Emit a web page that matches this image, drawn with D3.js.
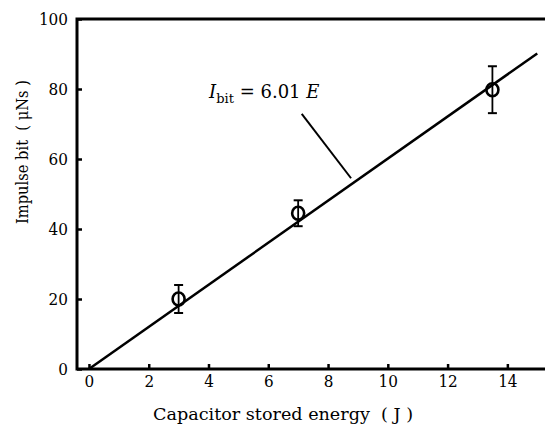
<!DOCTYPE html>
<html><head><meta charset="utf-8">
<script src="https://cdn.jsdelivr.net/npm/d3@7"></script>
<style>body{margin:0;background:#fff}svg{display:block}</style>
</head><body><svg id="c" width="545" height="429"></svg>
<script>
const energy = [3, 7, 13.5];
const impulse = [20, 44.5, 79.8];
const errHalf = [4, 3.7, 6.7];
const xTicks = [0, 2, 4, 6, 8, 10, 12, 14];
const yTicks = [0, 20, 40, 60, 80, 100];
const fitSlope = 6.01;
const fitRange = [0, 15];
const xTitle = "Capacitor stored energy\u00A0\u00A0( J )";
const yTitle = "Impulse bit\u00A0\u00A0( μNs )";
const FONT = "'DejaVu Serif', serif";

const svg = d3.select("#c");
const x = d3.scaleLinear().domain([-0.4, 15.36]).range([77, 548]);
const y = d3.scaleLinear().domain([0, 100]).range([369, 19]);

svg.append("path").attr("d", `M${x.range()[1]},${y(100)}H${x(-0.4)}V${y(0)}H${x.range()[1]}`)
  .attr("fill","none").attr("stroke","#000").attr("stroke-width",3);

const xa = svg.append("g").attr("transform",`translate(0,${y(0)})`)
  .call(d3.axisBottom(x).tickValues(xTicks).tickSizeInner(-5).tickSizeOuter(0).tickPadding(10).tickFormat(d3.format("d")));
xa.attr("font-family", FONT).attr("font-size",17);
xa.select(".domain").remove();
xa.selectAll("line").attr("stroke-width",2.5);
xa.selectAll("text").attr("dy","0.71em").attr("y",6);

const ya = svg.append("g").attr("transform",`translate(${x(-0.4)},0)`)
  .call(d3.axisLeft(y).tickValues(yTicks).tickSizeInner(-5).tickSizeOuter(0).tickPadding(9).tickFormat(d3.format("d")));
ya.attr("font-family", FONT).attr("font-size",17);
ya.select(".domain").remove();
ya.selectAll("line").attr("stroke-width",2.5);
ya.selectAll("text").attr("x",-9).attr("textLength", d => String(d).length * 9.7).attr("lengthAdjust","spacingAndGlyphs");
xa.selectAll("text").attr("textLength", d => String(d).length * 9.7).attr("lengthAdjust","spacingAndGlyphs");

svg.append("line").attr("x1",x(fitRange[0])).attr("y1",y(fitSlope*fitRange[0]))
  .attr("x2",x(fitRange[1])).attr("y2",y(fitSlope*fitRange[1]))
  .attr("stroke","#000").attr("stroke-width",2.5);

const pts = energy.map((e,i)=>({e, v:impulse[i], s:errHalf[i]}));
const g = svg.append("g");
pts.forEach(p=>{
  g.append("line").attr("x1",x(p.e)).attr("x2",x(p.e)).attr("y1",y(p.v+p.s)).attr("y2",y(p.v-p.s)).attr("stroke","#000").attr("stroke-width",1.8);
  [p.v+p.s, p.v-p.s].forEach(v=>g.append("line").attr("x1",x(p.e)-4.5).attr("x2",x(p.e)+4.5).attr("y1",y(v)).attr("y2",y(v)).attr("stroke","#000").attr("stroke-width",2));
  g.append("ellipse").attr("cx",x(p.e)).attr("cy",y(p.v)).attr("rx",6).attr("ry",6.5).attr("fill","none").attr("stroke","#000").attr("stroke-width",2.6);
});

const ann = {tx: 4.02, ty: 77.3, lx1: 7.12, ly1: 72.9, lx2: 8.77, ly2: 54.5};
const t = svg.append("text").attr("x",x(ann.tx)).attr("y",y(ann.ty)).attr("font-size",18).attr("font-family",FONT);
t.append("tspan").attr("font-style","italic").text("I");
t.append("tspan").attr("font-size",13).attr("dy",5).text("bit");
t.append("tspan").attr("dy",-5).text(" = 6.01 ");
t.append("tspan").attr("font-style","italic").text("E");
svg.append("line").attr("x1",x(ann.lx1)).attr("y1",y(ann.ly1)).attr("x2",x(ann.lx2)).attr("y2",y(ann.ly2))
  .attr("stroke","#000").attr("stroke-width",2);

svg.append("text").attr("x",283).attr("y",420).attr("text-anchor","middle").attr("font-size",17.5).attr("font-family",FONT)
  .attr("textLength",260).attr("lengthAdjust","spacingAndGlyphs").text(xTitle);
svg.append("text").attr("transform","translate(28,152) rotate(-90)").attr("text-anchor","middle").attr("font-size",17.5).attr("font-family",FONT)
  .attr("textLength",144).attr("lengthAdjust","spacingAndGlyphs").text(yTitle);
</script></body></html>
